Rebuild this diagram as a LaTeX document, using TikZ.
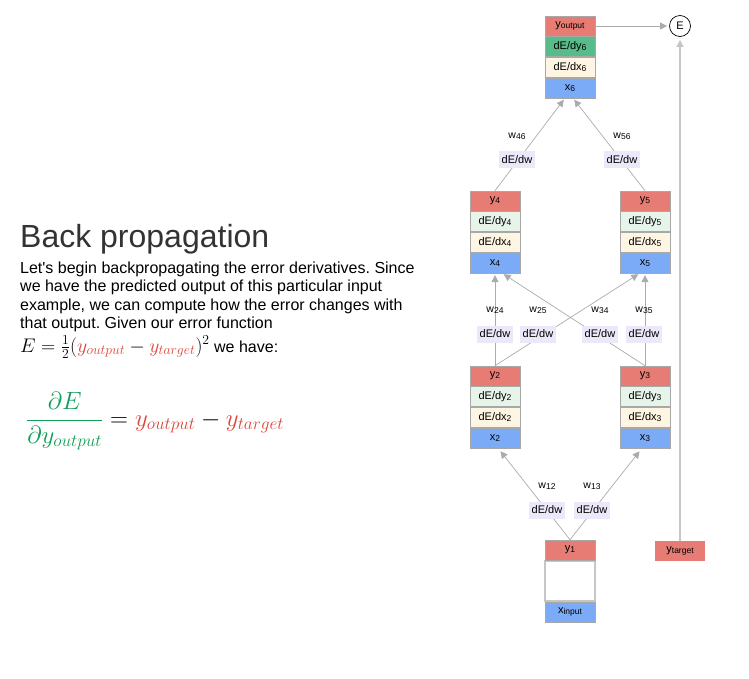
\documentclass[tikz,border=0pt]{standalone}
\usepackage[no-math]{fontspec}
\usepackage{graphicx}
\setmainfont{Liberation Sans}
\usetikzlibrary{arrows.meta,positioning}

\definecolor{cellred}{HTML}{E67C73}
\definecolor{cellgreen}{HTML}{57BB8A}
\definecolor{cellmint}{HTML}{E6F4EA}
\definecolor{cellcream}{HTML}{FEF5E3}
\definecolor{cellblue}{HTML}{7BAAF7}
\definecolor{cellline}{HTML}{A8A8A8}
\definecolor{gradfill}{HTML}{EDE7FA}
\definecolor{linkgray}{HTML}{ABABAB}
\definecolor{targetgray}{HTML}{C6C6C6}
\definecolor{titlegray}{HTML}{333333}
\definecolor{mathgreen}{HTML}{0F9D58}
\definecolor{mathred}{HTML}{DB4437}

\newcommand{\lo}[1]{\raisebox{-0.8pt}{\fontsize{8.5}{9}\selectfont#1}}
\frenchspacing

\begin{document}
\begin{tikzpicture}[x=1pt, y=-1pt,
  cell/.style={draw=cellline, line width=0.6pt, minimum width=50pt, minimum height=20pt,
    inner sep=0pt, font=\fontsize{11}{12}\selectfont},
  grad/.style={fill=gradfill, minimum width=36pt, minimum height=17pt, inner sep=0pt,
    font=\fontsize{11}{12}\selectfont},
  wname/.style={inner sep=0pt, font=\fontsize{10.5}{11}\selectfont},
  link/.style={draw=linkgray, line width=0.7pt, -{Triangle[width=7pt,length=7pt]}, shorten >=2pt},
  textline/.style={anchor=base west, inner sep=0pt, font=\fontsize{16}{18}\selectfont}]
\useasboundingbox (0,0) rectangle (749,678);

% left column
\node[anchor=base west, inner sep=0pt, text=titlegray, font=\fontsize{32}{36}\selectfont] (title) at (20,247) {Back propagation};
\node[textline] (line1) at (20,273) {Let\textquotesingle s begin backpropagating the error derivatives. Since};
\node[textline] (line2) at (20,291.5) {we have the predicted output of this particular input};
\node[textline] (line3) at (20,310) {example, we can compute how the error changes with};
\node[textline] (line4) at (20,328.5) {that output. Given our error function};
\node[textline] (line5) at (20,352) {{\fontsize{17.28}{20}\selectfont\scalebox{1.14}{$E=\frac{1}{2}({\color{mathred}y_{output}}-{\color{mathred}y_{target}})^2$}} we have:};
\node[anchor=base west, inner sep=0pt, font=\fontsize{24.5}{28}\selectfont] (deriv) at (26,426)
  {$\displaystyle\color{mathgreen}\frac{\partial E}{\partial y_{output}}\color{black}={\color{mathred}y_{output}}-{\color{mathred}y_{target}}$};

% output unit
\node[cell, fill=cellred] (yout) at (570,26) {y\lo{output}};
\node[cell, fill=cellgreen, below=0pt of yout] (dy6) {dE/dy\lo{6}};
\node[cell, fill=cellcream, below=0pt of dy6] (dx6) {dE/dx\lo{6}};
\node[cell, fill=cellblue, below=0pt of dx6] (x6) {x\lo{6}};

% hidden units
\foreach \n/\px/\py in {2/495/376, 3/645/376, 4/495/201, 5/645/201} {
  \node[cell, fill=cellred] (y\n) at (\px,\py) {y\lo{\n}};
  \node[cell, fill=cellmint, below=0pt of y\n] (dy\n) {dE/dy\lo{\n}};
  \node[cell, fill=cellcream, below=0pt of dy\n] (dx\n) {dE/dx\lo{\n}};
  \node[cell, fill=cellblue, below=0pt of dx\n] (x\n) {x\lo{\n}};
}

% input unit
\node[cell, draw=targetgray, line width=1.4pt, minimum height=40pt] (mid1) at (570,581) {};
\node[cell, fill=cellred, above=0pt of mid1] (y1) {y\lo{1}};
\node[cell, fill=cellblue, below=0pt of mid1] (xin) {x\lo{input}};

% target and error
\node[cell, draw=none, fill=cellred] (yt) at (680,551) {y\lo{target}};
\node[circle, draw, line width=0.7pt, minimum size=21pt, inner sep=0pt, font=\fontsize{11}{12}\selectfont] (E) at (680,26) {E};

% connectors
\draw[link] (yout.east) -- (E.west);
\draw[link, draw=targetgray, line width=1.5pt, shorten >=3pt] (yt.north) -- (E.south);
\draw[link] (y4.north) -- ([xshift=-5pt]x6.south);
\draw[link] (y5.north) -- ([xshift=3pt]x6.south);
\draw[link] (y2.north) -- (x4.south);
\draw[link] (y3.north) -- ([xshift=7pt]x4.south);
\draw[link] (y2.north) -- ([xshift=-5pt]x5.south);
\draw[link] (y3.north) -- (x5.south);
\draw[link, shorten >=4pt] (y1.north) -- ([xshift=3pt]x2.south);
\draw[link, shorten >=4pt] (y1.north) -- ([xshift=-3pt]x3.south);

% weight labels
\foreach \w/\px/\py in {46/517/159.5, 56/622/159.5, 24/495/334, 25/538/334, 34/600/334, 35/644/334, 12/547/510, 13/592/510} {
  \node[grad] (g\w) at (\px,\py) {dE/dw};
  \node[wname, above=23.5pt of g\w.center, anchor=center] (w\w) {w\lo{\w}};
}
\end{tikzpicture}
\end{document}
